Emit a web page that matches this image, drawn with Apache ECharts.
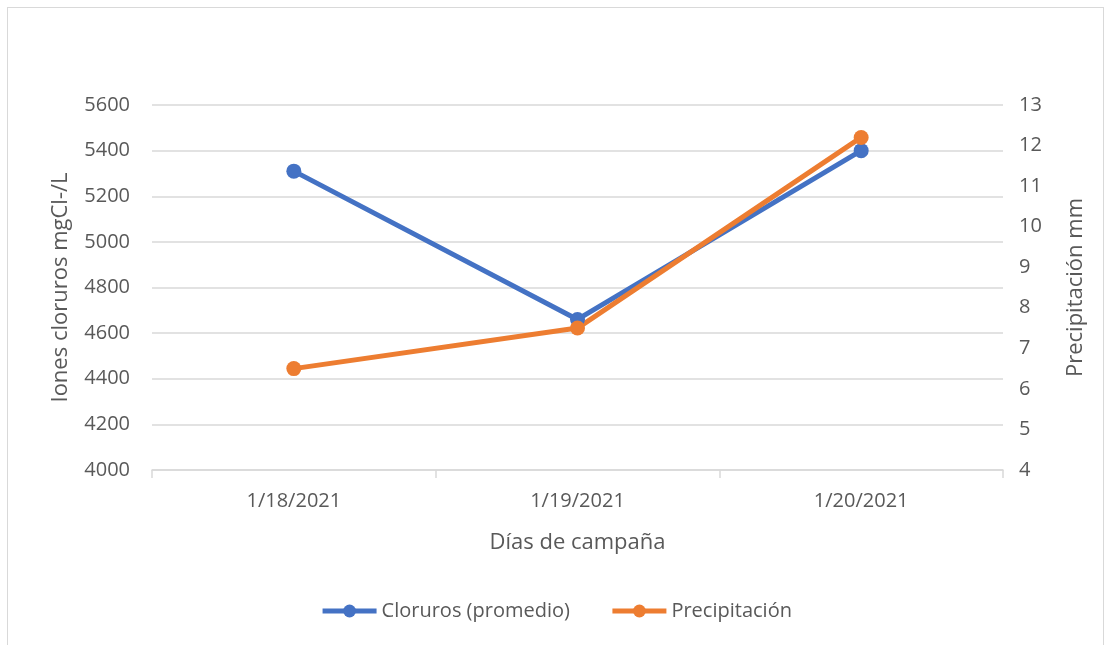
<!DOCTYPE html>
<html>
<head>
<meta charset="utf-8">
<script src="https://cdn.jsdelivr.net/npm/echarts@6/dist/echarts.min.js"></script>
<style>
  html, body { margin: 0; padding: 0; background: #fff; }
  #frame { position: absolute; left: 7px; top: 7px; width: 1097px; height: 640px; border: 1px solid #d9d9d9; box-sizing: border-box; }
  #chart { width: 1112px; height: 645px; }
</style>
</head>
<body>
<div id="frame"></div>
<div id="chart"></div>
<script>
  var categories = ["1/18/2021", "1/19/2021", "1/20/2021"];
  var cloruros = [5310, 4660, 5400];
  var precipitacion = [6.5, 7.5, 12.2];

  var FONT = "'Open Sans', 'Noto Sans', sans-serif";
  var TEXT = "#595959";

  var chart = echarts.init(document.getElementById("chart"));
  chart.setOption({
    animation: false,
    color: ["#4472c4", "#ed7d31"],
    textStyle: { fontFamily: FONT },
    legend: {
      top: 596,
      left: "center",
      itemWidth: 54,
      itemHeight: 16,
      itemGap: 40,
      itemTextGap: 6,
      lineStyle: { width: 5 },
      textStyle: { fontSize: 20, color: TEXT, fontFamily: FONT },
      data: ["Cloruros (promedio)", "Precipitación"]
    },
    grid: { left: 152, right: 109, top: 105, bottom: 175 },
    xAxis: {
      type: "category",
      data: categories,
      name: "Días de campaña",
      nameLocation: "middle",
      nameGap: 62,
      nameTextStyle: { fontSize: 22, color: TEXT },
      axisLine: { lineStyle: { color: "#d9d9d9", width: 1.5 } },
      axisTick: { show: true, length: 8, lineStyle: { color: "#d9d9d9", width: 1.5 } },
      axisLabel: { fontSize: 20, color: TEXT, margin: 21 }
    },
    yAxis: [{
      type: "value",
      min: 4000,
      max: 5600,
      interval: 200,
      name: "Iones cloruros mgCl-/L",
      nameLocation: "middle",
      nameGap: 80,
      nameTextStyle: { fontSize: 22, color: TEXT },
      axisLabel: { fontSize: 20, color: TEXT, margin: 22, formatter: function (v) { return String(v); } },
      axisLine: { show: false },
      axisTick: { show: false },
      splitLine: { lineStyle: { color: "#d9d9d9", width: 1.5 } }
    }, {
      type: "value",
      min: 4,
      max: 13,
      interval: 1,
      name: "Precipitación mm",
      nameLocation: "middle",
      nameGap: 62,
      nameTextStyle: { fontSize: 22, color: TEXT },
      axisLabel: { fontSize: 20, color: TEXT, margin: 16 },
      axisLine: { show: false },
      axisTick: { show: false },
      splitLine: { show: false }
    }],
    series: [{
      name: "Cloruros (promedio)",
      type: "line",
      yAxisIndex: 0,
      data: cloruros,
      symbol: "circle",
      symbolSize: 15,
      lineStyle: { width: 5 }
    }, {
      name: "Precipitación",
      type: "line",
      yAxisIndex: 1,
      data: precipitacion,
      symbol: "circle",
      symbolSize: 15,
      lineStyle: { width: 5 }
    }]
  });
</script>
</body>
</html>
